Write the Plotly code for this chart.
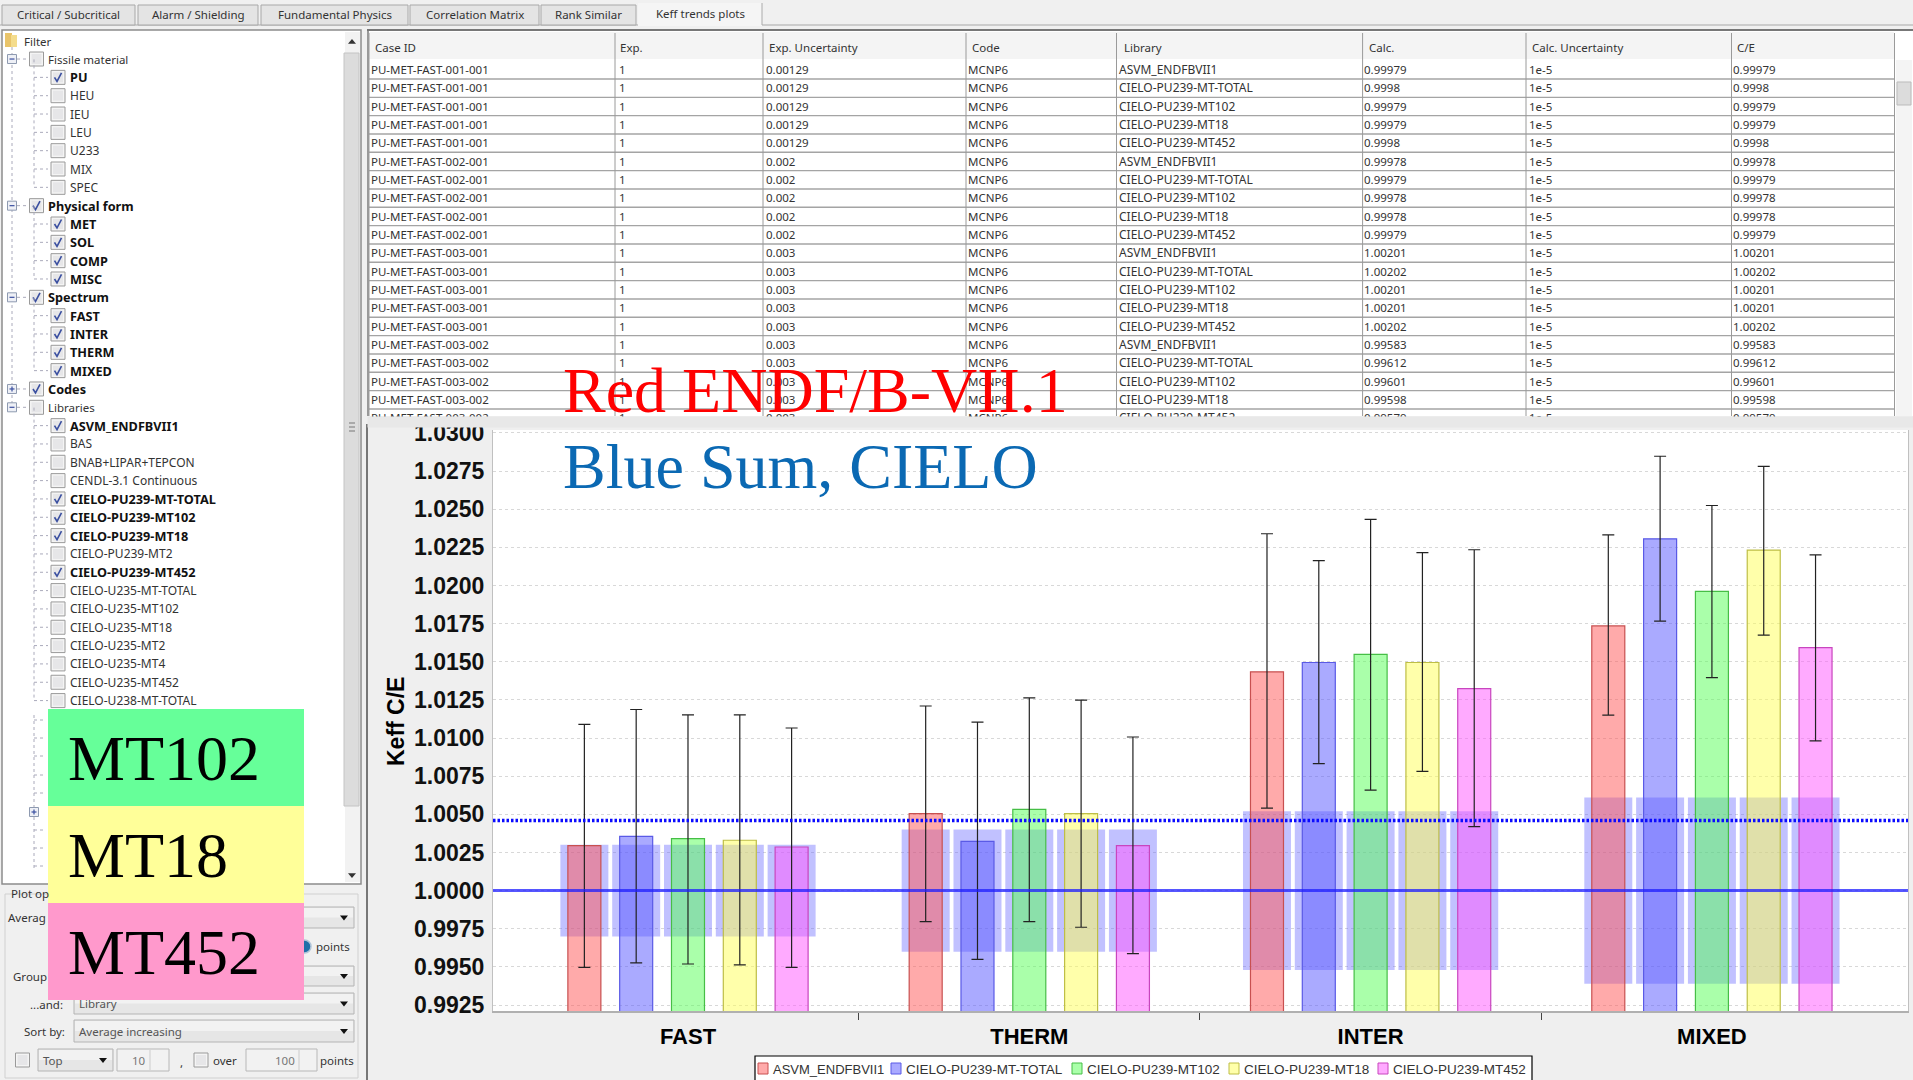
import plotly.graph_objects as go

# ---------- chart data ----------
categories = ["FAST", "THERM", "INTER", "MIXED"]
series_names = ["ASVM_ENDFBVII1", "CIELO-PU239-MT-TOTAL", "CIELO-PU239-MT102", "CIELO-PU239-MT18", "CIELO-PU239-MT452"]
asvm_ce = [1.00295, 1.00505, 1.01434, 1.01735]
total_ce = [1.00356, 1.00323, 1.01495, 1.02306]
mt102_ce = [1.00341, 1.00533, 1.01548, 1.01961]
mt18_ce = [1.00330, 1.00505, 1.01495, 1.02232]
mt452_ce = [1.00286, 1.00295, 1.01324, 1.01592]
asvm_high = [1.01090, 1.01210, 1.02339, 1.02331]
total_high = [1.01187, 1.01104, 1.02163, 1.02847]
mt102_high = [1.01152, 1.01263, 1.02433, 1.02524]
mt18_high = [1.01152, 1.01248, 1.02215, 1.02781]
mt452_high = [1.01066, 1.01007, 1.02234, 1.02201]
asvm_low = [0.99497, 0.99797, 1.00541, 1.01150]
total_low = [0.99526, 0.99550, 1.00833, 1.01766]
mt102_low = [0.99519, 0.99797, 1.00659, 1.01396]
mt18_low = [0.99513, 0.99760, 1.00781, 1.01674]
mt452_low = [0.99497, 0.99587, 1.00419, 1.00982]
band_half = [0.0030, 0.0040, 0.0052, 0.0061]
unity_line = 1.0
average_line = 1.00459

# ---------- table data ----------
case_ids = ["PU-MET-FAST-001-001"] * 5 + ["PU-MET-FAST-002-001"] * 5 + ["PU-MET-FAST-003-001"] * 5 + ["PU-MET-FAST-003-002"] * 5
exp_values = ["1"] * 20
exp_unc = ["0.00129"] * 5 + ["0.002"] * 5 + ["0.003"] * 10
codes = ["MCNP6"] * 20
libraries = series_names * 4
calc_values = ["0.99979", "0.9998", "0.99979", "0.99979", "0.9998",
               "0.99978", "0.99979", "0.99978", "0.99978", "0.99979",
               "1.00201", "1.00202", "1.00201", "1.00201", "1.00202",
               "0.99583", "0.99612", "0.99601", "0.99598", "0.99579"]
calc_unc = ["1e-5"] * 20
table_headers = ["Case ID", "Exp.", "Exp. Uncertainty", "Code", "Library", "Calc.", "Calc. Uncertainty", "C/E"]

# ---------- filter tree data: (level, label, checked, bold) ----------
tree_rows = [
    (1, "Fissile material", False, False), (2, "PU", True, True), (2, "HEU", False, False), (2, "IEU", False, False),
    (2, "LEU", False, False), (2, "U233", False, False), (2, "MIX", False, False), (2, "SPEC", False, False),
    (1, "Physical form", True, True), (2, "MET", True, True), (2, "SOL", True, True), (2, "COMP", True, True), (2, "MISC", True, True),
    (1, "Spectrum", True, True), (2, "FAST", True, True), (2, "INTER", True, True), (2, "THERM", True, True), (2, "MIXED", True, True),
    (1, "Codes", True, True), (1, "Libraries", False, False),
    (2, "ASVM_ENDFBVII1", True, True), (2, "BAS", False, False), (2, "BNAB+LIPAR+TEPCON", False, False), (2, "CENDL-3.1 Continuous", False, False),
    (2, "CIELO-PU239-MT-TOTAL", True, True), (2, "CIELO-PU239-MT102", True, True), (2, "CIELO-PU239-MT18", True, True), (2, "CIELO-PU239-MT2", False, False),
    (2, "CIELO-PU239-MT452", True, True), (2, "CIELO-U235-MT-TOTAL", False, False), (2, "CIELO-U235-MT102", False, False), (2, "CIELO-U235-MT18", False, False),
    (2, "CIELO-U235-MT2", False, False), (2, "CIELO-U235-MT4", False, False), (2, "CIELO-U235-MT452", False, False), (2, "CIELO-U238-MT-TOTAL", False, False),
]
tab_labels = ["Critical / Subcritical", "Alarm / Shielding", "Fundamental Physics", "Correlation Matrix", "Rank Similar", "Keff trends plots"]

# ---------- page geometry ----------
W, H = 1913, 1080
UI = "Noto Sans"
SER = "Liberation Serif"
ARIAL = "Liberation Sans"
fx = lambda x: x / W
fy = lambda y: 1 - y / H
shapes, notes = [], []


def rect(x0, y0, x1, y1, fill="rgba(0,0,0,0)", line=None, lw=1, layer="below"):
    shapes.append(dict(type="rect", xref="paper", yref="paper", x0=fx(x0), x1=fx(x1), y0=fy(y0), y1=fy(y1),
                       fillcolor=fill, line=dict(color=line or "rgba(0,0,0,0)", width=lw if line else 0), layer=layer))


def seg(x0, y0, x1, y1, color="#999", lw=1, dash="solid", layer="below"):
    shapes.append(dict(type="line", xref="paper", yref="paper", x0=fx(x0), x1=fx(x1), y0=fy(y0), y1=fy(y1),
                       line=dict(color=color, width=lw, dash=dash), layer=layer))


def poly(pts, color, lw=1.4, layer="below", fill=None):
    p = "M " + " L ".join(f"{fx(a):.5f},{fy(b):.5f}" for a, b in pts)
    shapes.append(dict(type="path", xref="paper", yref="paper", path=p, line=dict(color=color, width=lw),
                       fillcolor=fill, layer=layer))


def text(x, y, s, size=11.5, color="#333", bold=False, family=UI, anchor="left", valign="middle", angle=0):
    if bold:
        s = f"<b>{s}</b>"
    notes.append(dict(xref="paper", yref="paper", x=fx(x), y=fy(y), text=s, showarrow=False, xanchor=anchor, yanchor=valign,
                      borderpad=0, borderwidth=0, textangle=angle, font=dict(family=family, size=size, color=color)))


def checkbox(cx, cy, checked, size=14):
    h = size / 2
    rect(cx - h, cy - h, cx + h, cy + h, fill="#f4f4f4", line="#9a9a9a", lw=1)
    rect(cx - h + 2, cy - h + 2, cx + h - 2, cy + h - 2, fill="#e6e6e8")
    if checked:
        poly([(cx - 3.5, cy), (cx - 1, cy + 4), (cx + 3.5, cy - 4.5)], "#3a4fa0", 1.6)


def expander(cx, cy, plus):
    rect(cx - 4.5, cy - 4.5, cx + 4.5, cy + 4.5, fill="#eef0f6", line="#8e9ab0", lw=1)
    seg(cx - 2.5, cy, cx + 2.5, cy, "#3a4fa0", 1.2)
    if plus:
        seg(cx, cy - 2.5, cx, cy + 2.5, "#3a4fa0", 1.2)


def combo(x0, y0, x1, y1, label=None):
    rect(x0, y0, x1, y1, fill="#e6e6e6", line="#b4b4b4", lw=1)
    rect(x0 + 1, y0 + 1, x1 - 1, (y0 + y1) / 2, fill="#f2f2f2")
    my = (y0 + y1) / 2
    shapes.append(dict(type="path", xref="paper", yref="paper", layer="below", fillcolor="#111", line=dict(color="#111", width=0),
                       path=f"M {fx(x1-14):.5f},{fy(my-2):.5f} L {fx(x1-6):.5f},{fy(my-2):.5f} L {fx(x1-10):.5f},{fy(my+3):.5f} Z"))
    if label:
        text(x0 + 5, my, label, 11.5, "#555")


# ---------- tabs ----------
tab_edges = [(2, 135), (138, 258), (261, 408), (410, 539), (541, 636), (638, 762)]
seg(0, 25, W, 25, "#a8a8a8", 1)
for (a, b), lab in zip(tab_edges, tab_labels):
    active = lab.startswith("Keff")
    if active:
        rect(a, 3, b, 26, fill="#f5f5f5")
        seg(b, 3, b, 25, "#aaa")
    else:
        rect(a, 5, b, 25, fill="#e4e4e4", line="#a8a8a8")
    text((a + b) / 2, 15 if not active else 13.5, lab, 11.5, "#333", anchor="center")

# ---------- filter tree panel ----------
rect(2, 30, 361, 884, fill="white", line="#8c8c8c", lw=1.5)
rect(345, 32, 360, 882, fill="#f2f2f2")
rect(344, 53, 359, 806, fill="#dcdcdc", line="#c4c4c4")
seg(349, 423, 355, 423, "#777", 1); seg(349, 427, 355, 427, "#777", 1); seg(349, 431, 355, 431, "#777", 1)
for cy, tip in ((42, -3), (875, 3)):
    shapes.append(dict(type="path", xref="paper", yref="paper", layer="below", fillcolor="#333", line=dict(color="#333", width=0),
                       path=f"M {fx(348):.5f},{fy(cy-tip*0.6):.5f} L {fx(356):.5f},{fy(cy-tip*0.6):.5f} L {fx(352):.5f},{fy(cy+tip):.5f} Z"))
rect(5, 33, 12, 47, fill="#e9c46a"); rect(11, 35, 17, 47, fill="#f4dc8c")
text(24, 41, "Filter", 11.5)
seg(12, 47, 12, 412, "#aab", 1, "dot")
ROW0, ROW = 40.7, 18.33
for i, (lvl, lab, chk, bold) in enumerate(tree_rows, start=1):
    cy = ROW0 + i * ROW
    size = 12.7 if bold else 11.5
    if lvl == 1:
        if lab in ("Fissile material", "Physical form", "Spectrum", "Libraries"):
            expander(12, cy, False)
        else:
            expander(12, cy, True)
        seg(17, cy, 27, cy, "#aab", 1, "dot")
        checkbox(36.5, cy, chk)
        text(47.5, cy, lab, size, "#111" if bold else "#333", bold)
    else:
        seg(34, cy - 18, 34, cy, "#aab", 1, "dot")
        seg(34, cy, 48, cy, "#aab", 1, "dot")
        checkbox(58, cy, chk)
        text(69.5, cy, lab, size if bold else 12, "#111" if bold else "#333", bold)
seg(34, 715, 34, 870, "#aab", 1, "dot")
for cy in (720, 738, 756, 775, 793, 830, 848, 866):
    seg(34, cy, 46, cy, "#aab", 1, "dot")
expander(34, 812, True)

# ---------- plot options panel ----------
rect(5, 894, 358, 1078, line="#d0d0d0", lw=1)
text(11, 894, "Plot op", 11.5)
text(8, 917, "Averag", 11.5)
combo(74, 907, 354, 928)
shapes.append(dict(type="circle", xref="paper", yref="paper", layer="below", x0=fx(298), x1=fx(311), y0=fy(953), y1=fy(940),
                   fillcolor="#1f6fa8", line=dict(color="#b0c4d8", width=1.5)))
text(316, 946, "points", 11.5)
text(13, 976, "Group", 11.5)
combo(74, 966, 354, 986)
text(30, 1004, "...and:", 11.5)
combo(74, 993, 354, 1014, "Library")
text(24, 1031, "Sort by:", 11.5)
combo(74, 1020, 354, 1042, "Average increasing")
checkbox(22.5, 1060, False)
combo(38, 1049, 113, 1071, "Top")
rect(117, 1049, 169, 1071, fill="#f2f2f2", line="#b8b8b8")
text(146, 1060, "10", 11.5, "#777", anchor="right")
seg(150, 1050, 150, 1070, "#ccc")
text(180, 1062, ",", 11.5)
checkbox(201, 1060, False)
text(213, 1060, "over", 11.5)
rect(246, 1049, 317, 1071, fill="#f2f2f2", line="#b8b8b8")
text(295, 1060, "100", 11.5, "#777", anchor="right")
seg(299, 1050, 299, 1070, "#ccc")
text(320, 1060, "points", 11.5)

# coloured key boxes (sit above the tree)
key_labels = ["MT102", "MT18", "MT452"]
key_fills = ["#66ff99", "#ffff99", "#ff99cc"]
key_tops = [709, 806, 903]
for lab, col, top in zip(key_labels, key_fills, key_tops):
    rect(48, top, 304, top + 97, fill=col)
    text(68, top + 49, lab, 64, "black", family=SER)

# ---------- results table ----------
col_x = [369, 615, 763, 966, 1116.5, 1362.6, 1526, 1731.5, 1894.5]
rect(367, 30, W, 416, fill="white")
seg(367, 30, W, 30, "#777", 2)
seg(368, 30, 368, 416, "#777", 1.5)
rect(369, 32, 1894, 59, fill="#f4f4f4")
rows = list(zip(case_ids, exp_values, exp_unc, codes, libraries, calc_values, calc_unc, calc_values))
text_x = [371, 618.5, 765.5, 968, 1118.6, 1364, 1529, 1733]
head_x = [375, 620, 769, 972, 1124, 1369, 1532, 1737]
for hx, h in zip(head_x, table_headers):
    text(hx, 48, h, 11.5, "#333")
for k, r in enumerate(rows):
    cy = 69.5 + k * 18.33
    for j, (tx, v) in enumerate(zip(text_x, r)):
        text(tx, cy, v, 12 if j == 4 else 11.5, "#333")
    if cy + 9.5 < 416:
        seg(369, cy + 9.5, 1894, cy + 9.5, "#a4a4a4", 1.4)
for cx in col_x:
    seg(cx, 33, cx, 416, "#9a9a9a", 1)
rect(1896, 60, 1912, 416, fill="#f4f4f4")
rect(1897, 82, 1911, 105, fill="#dcdcdc", line="#bbb")
# chart panel covers the clipped last table row
notes.append(dict(xref="paper", yref="paper", x=fx(367), y=fy(416), xanchor="left", yanchor="top", text=" ", showarrow=False,
                  width=W - 367, height=10, bgcolor="#e8e8e8", borderpad=0))
rect(368, 424, W, H, fill="#efefef")
rect(493, 430, 1908, 1011, fill="white")
seg(367, 424, 367, H, "#777", 2)

# ---------- chart legend ----------
series_fills = ["rgba(255,85,85,0.5)", "rgba(85,85,255,0.5)", "rgba(85,255,85,0.5)", "rgba(255,255,85,0.5)", "rgba(255,85,255,0.5)"]
series_edges = ["#c85050", "#5a5ae6", "#46be46", "#bebe46", "#c846be"]
rect(755, 1056, 1532, 1084, fill="white", line="black", lw=1.2)
swatch_x = [758, 891, 1072, 1229, 1378]
for sx, name, f, e in zip(swatch_x, series_names, series_fills, series_edges):
    rect(sx, 1063, sx + 10, 1074, fill=f, line=e)
    text(sx + 15, 1069, name, 13 if sx == swatch_x[0] else 13.5, "#333", family=ARIAL)

# ---------- overlay titles ----------
text(563, 390, "Red ENDF/B-VII.1", 64, "#ff0000", family=SER)
text(563, 467, "Blue Sum, CIELO", 64, "#0b69b3", family=SER)
text(396, 722, "Keff C/E", 23, "black", True, ARIAL, anchor="center", angle=-90)

# ---------- chart traces ----------
values = [asvm_ce, total_ce, mt102_ce, mt18_ce, mt452_ce]
highs = [asvm_high, total_high, mt102_high, mt18_high, mt452_high]
lows = [asvm_low, total_low, mt102_low, mt18_low, mt452_low]
xs = list(range(len(categories)))
STEP, BAR_W, BAND_W = 0.1518, 0.0967, 0.1406

fig = go.Figure()
for s in range(5):
    ctr = (s - 2) * STEP
    fig.add_trace(go.Bar(x=xs, y=[2 * b for b in band_half], base=[unity_line - b for b in band_half],
                         width=BAND_W, offset=ctr - BAND_W / 2, marker=dict(color="rgba(100,100,255,0.4)", line=dict(width=0)),
                         showlegend=False, hoverinfo="skip"))
for s in range(5):
    ctr = (s - 2) * STEP
    fig.add_trace(go.Bar(x=xs, y=values[s], name=series_names[s], width=BAR_W, offset=ctr - BAR_W / 2,
                         marker=dict(color=series_fills[s], line=dict(color=series_edges[s], width=1.2)),
                         error_y=dict(type="data", symmetric=False,
                                      array=[h - v for h, v in zip(highs[s], values[s])],
                                      arrayminus=[v - l for v, l in zip(values[s], lows[s])],
                                      color="#222", thickness=1.2, width=6),
                         showlegend=False))
x_range = [-0.5713, 3.5745]
fig.add_trace(go.Scatter(x=x_range, y=[unity_line] * 2, mode="lines", line=dict(color="rgba(30,30,255,0.75)", width=3), showlegend=False, hoverinfo="skip"))
fig.add_trace(go.Scatter(x=x_range, y=[average_line] * 2, mode="lines", line=dict(color="#0a0aff", width=3.5, dash="2.5px,2px"), showlegend=False, hoverinfo="skip"))

fig.update_layout(
    width=W, height=H, autosize=False, margin=dict(l=0, r=0, t=0, b=0), paper_bgcolor="#f0f0f0", plot_bgcolor="white",
    barmode="overlay", showlegend=False, shapes=shapes, annotations=notes,
    xaxis=dict(domain=[fx(493), fx(1908)], range=x_range, automargin=False, tickmode="array", tickvals=xs, ticktext=categories, ticks="",
               tickfont=dict(family=ARIAL, size=22, color="black", weight="bold"), ticklabelstandoff=5,
               showgrid=False, zeroline=False, showline=True, linecolor="#b0b0b0", linewidth=2,
               minor=dict(tickmode="array", tickvals=[0.5, 1.5, 2.5], ticks="outside", ticklen=7, tickcolor="#444", tickwidth=1, showgrid=False)),
    yaxis=dict(domain=[fy(1011), fy(430)], range=[0.99211, 1.03019], automargin=False, tick0=1, dtick=0.0025, tickformat=".4f", ticks="",
               tickfont=dict(family=ARIAL, size=23, color="#111", weight="bold"), ticklabelstandoff=3,
               showgrid=True, griddash="dot", gridcolor="#d8d8d8", gridwidth=1, zeroline=False, showline=True, linecolor="#c0c0c0", linewidth=1, mirror=True),
)
fig.write_html("out.html", config={"displayModeBar": False},
               post_script="document.body.style.margin='0';document.documentElement.style.overflow='hidden';")
